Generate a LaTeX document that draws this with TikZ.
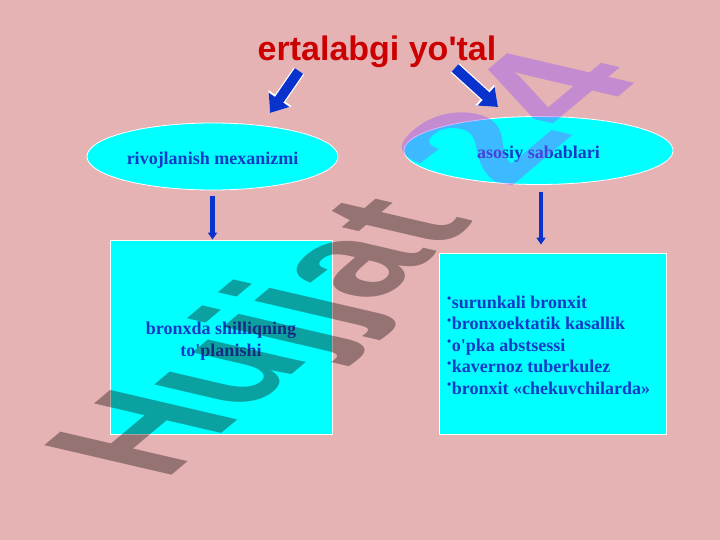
\documentclass[tikz,border=0pt]{standalone}
\usepackage{fontspec}
\setmainfont{Liberation Serif}[Ligatures=TeXOff]
\newfontfamily\titlefont{Liberation Sans}[Ligatures=TeXOff]
\usetikzlibrary{shapes.geometric,arrows.meta}
\definecolor{bgpink}{RGB}{229,179,179}
\definecolor{cyanfill}{RGB}{0,255,255}
\definecolor{titlered}{RGB}{204,0,0}
\definecolor{txtblue}{RGB}{16,60,200}
\definecolor{arrblue}{RGB}{10,50,205}
\definecolor{wmdark}{RGB}{30,20,20}
\definecolor{wmpurple}{RGB}{150,80,255}
\newcommand\bul{{\fontsize{12}{12}\selectfont\raisebox{5.5pt}{•}}\hspace{0.5pt}}
\begin{document}
\begin{tikzpicture}[x=1pt,y=-1pt,
  ell/.style={ellipse, fill=cyanfill, draw=white, line width=0.8pt, inner sep=0pt,
    font=\fontsize{18}{21}\selectfont\bfseries, text=txtblue, text height=16pt, text depth=0pt},
  boxnode/.style={rectangle, fill=cyanfill, draw=white, line width=0.8pt, inner sep=0pt},
  boxtext/.style={font=\fontsize{18}{21}\selectfont\bfseries, text=txtblue, inner sep=0pt},
  bigarrow/.style={arrblue, line width=10pt, -{Triangle[length=16pt,width=24pt]}},
  bigarrowrim/.style={white, line width=12.5pt, -{Triangle[length=18pt,width=27pt]}},
  thinarrow/.style={arrblue, line width=4.5pt, -{Triangle[length=7pt,width=9pt]}},
  wmark/.style={transform shape, anchor=base west, inner sep=0pt,
    font=\titlefont\fontsize{100}{100}\selectfont\bfseries, text opacity=0.4}]
\fill[bgpink] (0,0) rectangle (720,540);
\useasboundingbox (0,0) rectangle (720,540);

\node[font=\titlefont\fontsize{34}{34}\selectfont\bfseries, text=titlered, anchor=base, inner sep=0pt]
  (title) at (377,61) {ertalabgi yo'tal};

\node[ell, minimum width=251pt, minimum height=67pt] (e1) at (212.5,156.5) {rivojlanish mexanizmi};
\node[ell, minimum width=269pt, minimum height=68pt] (e2) at (538.5,150.5) {asosiy sabablari};

\node[boxnode, minimum width=222pt, minimum height=194pt] (b1) at (221,337) {};
\node[boxnode, minimum width=227pt, minimum height=181pt] (b2) at (552.5,343.5) {};

\node[boxtext, anchor=base] (b1l1) at (221,334) {bronxda shilliqning};
\node[boxtext, anchor=base] (b1l2) at (221,356) {to'planishi};

\node[boxtext, anchor=base west] (b2l1) at (447,308) {\bul surunkali bronxit};
\node[boxtext, anchor=base west] (b2l2) at (447,329.5) {\bul bronxoektatik kasallik};
\node[boxtext, anchor=base west] (b2l3) at (447,351) {\bul o'pka abstsessi};
\node[boxtext, anchor=base west] (b2l4) at (447,372.5) {\bul kavernoz tuberkulez};
\node[boxtext, anchor=base west] (b2l5) at (447,394) {\bul bronxit «chekuvchilarda»};

\coordinate (la1) at (299,71);
\coordinate (la2) at (270,113);
\coordinate (ra1) at (455,68);
\coordinate (ra2) at (498,107);
\draw[bigarrowrim] (la1) -- (la2);
\draw[bigarrow] (la1) -- (la2);
\draw[bigarrowrim] (ra1) -- (ra2);
\draw[bigarrow] (ra1) -- (ra2);

\draw[thinarrow, shorten <=6pt] (e1.south) -- (e1.south |- b1.north);
\draw[thinarrow, shorten <=7pt, shorten >=8pt] ([xshift=2.5pt]e2.south) -- ([xshift=2.5pt]e2.south |- b2.north);

\begin{scope}[shift={(164,482)}]
\node[wmark, cm={1.12,0.94,-1.85,0.43,(0,0)}] (wm1) at (0,0) {\textcolor{wmdark}{Hujjat}};
\end{scope}
\begin{scope}[shift={(508,190)}]
\node[wmark, cm={1.25,1.05,-1.85,0.43,(0,0)}] (wm2) at (0,0) {\textcolor{wmpurple}{24}};
\end{scope}
\end{tikzpicture}
\end{document}
